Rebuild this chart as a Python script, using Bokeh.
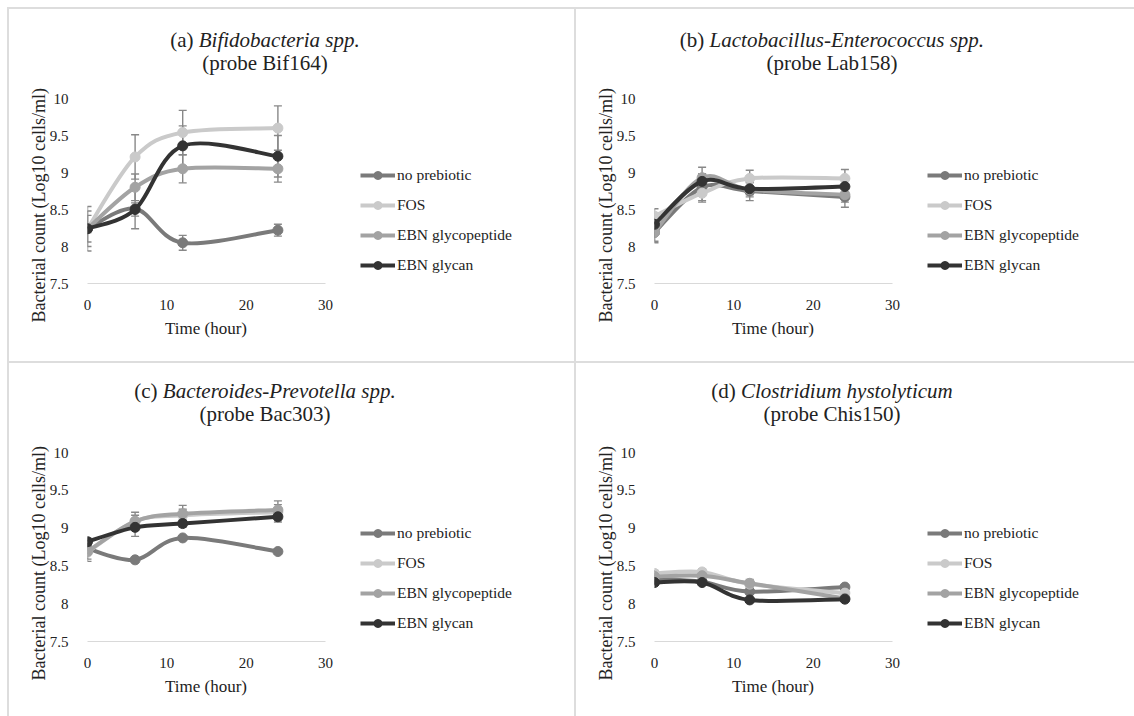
from bokeh.plotting import figure
from bokeh.models import (Range1d, FixedTicker, NumeralTickFormatter, Legend, LegendItem,
                          Whisker, TeeHead, ColumnDataSource, Div, Spacer, Title)
from bokeh.layouts import row, column
from bokeh.embed import file_html
from bokeh.resources import INLINE

# ---------------- data ----------------
TIME = [0, 6, 12, 24]
SERIES = ["no prebiotic", "FOS", "EBN glycopeptide", "EBN glycan"]

# (a) Bifidobacteria spp.
A_NO = [8.24, 8.51, 8.05, 8.22]
A_FOS = [8.24, 9.21, 9.54, 9.60]
A_GP = [8.24, 8.80, 9.05, 9.05]
A_GLY = [8.24, 8.50, 9.36, 9.22]
A_NO_ERR = [0.05, 0.27, 0.10, 0.08]
A_FOS_ERR = [0.30, 0.30, 0.30, 0.30]
A_GP_ERR = [0.24, 0.18, 0.19, 0.18]
A_GLY_ERR = [0.18, 0.09, 0.27, 0.28]

# (b) Lactobacillus-Enterococcus spp.
B_NO = [8.19, 8.80, 8.75, 8.67]
B_FOS = [8.41, 8.72, 8.92, 8.92]
B_GP = [8.19, 8.93, 8.77, 8.70]
B_GLY = [8.30, 8.88, 8.78, 8.81]
B_NO_ERR = [0.12, 0.18, 0.13, 0.14]
B_FOS_ERR = [0.10, 0.12, 0.11, 0.12]
B_GP_ERR = [0.14, 0.14, 0.10, 0.10]
B_GLY_ERR = [0.08, 0.10, 0.08, 0.08]

# (c) Bacteroides-Prevotella spp.
C_NO = [8.73, 8.58, 8.87, 8.69]
C_FOS = [8.68, 9.09, 9.17, 9.21]
C_GP = [8.69, 9.09, 9.19, 9.24]
C_GLY = [8.82, 9.01, 9.06, 9.15]
C_NO_ERR = [0.03, 0.03, 0.03, 0.03]
C_FOS_ERR = [0.12, 0.08, 0.08, 0.10]
C_GP_ERR = [0.10, 0.12, 0.11, 0.12]
C_GLY_ERR = [0.05, 0.12, 0.05, 0.07]

# (d) Clostridium hystolyticum
D_NO = [8.33, 8.29, 8.16, 8.22]
D_FOS = [8.40, 8.42, 8.26, 8.14]
D_GP = [8.36, 8.37, 8.27, 8.07]
D_GLY = [8.28, 8.28, 8.05, 8.06]
D_NO_ERR = [0.03, 0.03, 0.03, 0.03]
D_FOS_ERR = [0.04, 0.04, 0.04, 0.04]
D_GP_ERR = [0.04, 0.05, 0.05, 0.05]
D_GLY_ERR = [0.03, 0.03, 0.03, 0.03]

X_MIN, X_MAX = 0, 30
Y_MIN, Y_MAX = 7.5, 10
X_TICKS = [0, 10, 20, 30]
Y_TICKS = [7.5, 8, 8.5, 9, 9.5, 10]
X_LABEL = "Time (hour)"
Y_LABEL = "Bacterial count (Log10 cells/ml)"

PANELS = [
    dict(tag="(a)", name="Bifidobacteria spp.", probe="(probe Bif164)",
         vals=[A_NO, A_FOS, A_GP, A_GLY], errs=[A_NO_ERR, A_FOS_ERR, A_GP_ERR, A_GLY_ERR]),
    dict(tag="(b)", name="Lactobacillus-Enterococcus spp.", probe="(probe Lab158)",
         vals=[B_NO, B_FOS, B_GP, B_GLY], errs=[B_NO_ERR, B_FOS_ERR, B_GP_ERR, B_GLY_ERR]),
    dict(tag="(c)", name="Bacteroides-Prevotella spp.", probe="(probe Bac303)",
         vals=[C_NO, C_FOS, C_GP, C_GLY], errs=[C_NO_ERR, C_FOS_ERR, C_GP_ERR, C_GLY_ERR]),
    dict(tag="(d)", name="Clostridium hystolyticum", probe="(probe Chis150)",
         vals=[D_NO, D_FOS, D_GP, D_GLY], errs=[D_NO_ERR, D_FOS_ERR, D_GP_ERR, D_GLY_ERR]),
]

# ---------------- style / layout ----------------
COLORS = ["#7a7a7a", "#cacaca", "#a3a3a3", "#333333"]
ERR_COLOR = "#888888"
FONT = "Liberation Serif"
BORDER = "#dddddd"
TEXT_COLOR = "#222222"
TITLE_H = 68
TOP_B = 21
LEFT_B = 78          # px left of plot area
AXIS_PX = 238        # px width of the 0..30 axis
RIGHT_B = 10         # px right margin of the frame (legend lives inside the frame)


def smooth_controls(xs, ys):
    n = len(xs)
    out = dict(x0=[], y0=[], x1=[], y1=[], cx0=[], cy0=[], cx1=[], cy1=[])
    for i in range(n - 1):
        ip = i - 1 if i > 0 else i
        inn = i + 2 if i + 2 < n else i + 1
        out["x0"].append(xs[i]); out["y0"].append(ys[i])
        out["x1"].append(xs[i + 1]); out["y1"].append(ys[i + 1])
        out["cx0"].append(xs[i] + (xs[i + 1] - xs[ip]) / 6)
        out["cy0"].append(ys[i] + (ys[i + 1] - ys[ip]) / 6)
        out["cx1"].append(xs[i + 1] - (xs[inn] - xs[i]) / 6)
        out["cy1"].append(ys[i + 1] - (ys[inn] - ys[i]) / 6)
    return out


def make_title(panel, width, pad_top):
    html = (
        f'<div style="width:512px;text-align:center;font-family:\'{FONT}\';'
        f'font-size:21px;line-height:22.5px;color:{TEXT_COLOR};padding-top:{pad_top}px;'
        f'white-space:nowrap">{panel["tag"]} <i>{panel["name"]}</i><br>{panel["probe"]}</div>'
    )
    return Div(text=html, width=width, height=TITLE_H, margin=0)


def y_title():
    kw = dict(text=Y_LABEL, align="left", offset=-39, text_font=FONT,
              text_font_size="18px", text_font_style="normal", text_color=TEXT_COLOR)
    try:
        return Title(standoff=-5, **kw)
    except Exception:
        return Title(standoff=0, **kw)


def make_panel(panel, width, height, bottom_border):
    frame_w = width - LEFT_B - RIGHT_B
    # the 0..30 axis occupies AXIS_PX of the frame; the rest holds the legend
    x_end = X_MIN + (X_MAX - X_MIN) * frame_w / AXIS_PX
    p = figure(width=width, height=height, output_backend="svg", toolbar_location=None,
               x_range=Range1d(X_MIN, x_end), y_range=Range1d(Y_MIN, Y_MAX),
               min_border_left=LEFT_B, min_border_right=RIGHT_B,
               min_border_top=TOP_B, min_border_bottom=bottom_border)
    p.outline_line_color = None
    p.background_fill_color = "white"
    p.border_fill_color = "white"
    p.xgrid.grid_line_color = None
    p.ygrid.grid_line_color = None

    p.xaxis.ticker = FixedTicker(ticks=X_TICKS)
    p.xaxis.bounds = (X_MIN, X_MAX)
    p.yaxis.ticker = FixedTicker(ticks=Y_TICKS)
    p.yaxis.formatter = NumeralTickFormatter(format="0.[0]")
    for ax in (p.xaxis, p.yaxis):
        ax.major_tick_line_color = None
        ax.minor_tick_line_color = None
        ax.major_label_text_font = FONT
        ax.major_label_text_font_size = "15px"
        ax.major_label_text_color = TEXT_COLOR
    p.xaxis.axis_line_color = "#d9d9d9"
    p.xaxis.axis_line_width = 1.2
    p.yaxis.axis_line_color = None
    p.xaxis.major_label_standoff = 10
    p.yaxis.major_label_standoff = 13
    # x-axis title centred under the 0..30 axis
    p.add_layout(Title(text=X_LABEL, align="left", offset=(AXIS_PX - 83) / 2,
                       text_font=FONT, text_font_size="17px", text_font_style="normal",
                       text_color=TEXT_COLOR, standoff=8), "below")
    # y-axis title, starting a little below the plot area as in the original
    p.add_layout(y_title(), "left")

    items = []
    for name, vals, errs, color in zip(SERIES, panel["vals"], panel["errs"], COLORS):
        src = ColumnDataSource(dict(x=TIME, y=vals,
                                    upper=[v + e for v, e in zip(vals, errs)],
                                    lower=[v - e for v, e in zip(vals, errs)]))
        wk = Whisker(base="x", upper="upper", lower="lower", source=src, dimension="height",
                     line_color=ERR_COLOR, line_width=1.4,
                     upper_head=TeeHead(size=8, line_color=ERR_COLOR, line_width=1.4),
                     lower_head=TeeHead(size=8, line_color=ERR_COLOR, line_width=1.4))
        p.add_layout(wk)
        bsrc = ColumnDataSource(smooth_controls(TIME, vals))
        rl = p.bezier(x0="x0", y0="y0", x1="x1", y1="y1", cx0="cx0", cy0="cy0",
                      cx1="cx1", cy1="cy1", source=bsrc, line_color=color, line_width=4)
        rs = p.scatter(x="x", y="y", source=src, size=10, marker="circle",
                       fill_color=color, line_color=color)
        items.append(LegendItem(label=name, renderers=[rl, rs]))

    legend = Legend(items=items, location=(AXIS_PX + 35, 8), background_fill_alpha=0,
                    border_line_alpha=0, padding=0, margin=0, spacing=10,
                    glyph_width=35, glyph_height=20, label_height=20, label_standoff=2,
                    label_text_font=FONT, label_text_font_size="15.5px",
                    label_text_color=TEXT_COLOR)
    p.add_layout(legend)
    return p


fa = make_panel(PANELS[0], 565, 352 - TITLE_H, 78)
fb = make_panel(PANELS[1], 558, 352 - TITLE_H, 78)
fc = make_panel(PANELS[2], 565, 353 - TITLE_H, 75)
fd = make_panel(PANELS[3], 558, 353 - TITLE_H, 75)

ta = make_title(PANELS[0], 565, 20)
tb = make_title(PANELS[1], 558, 20)
tc = make_title(PANELS[2], 565, 17)
td = make_title(PANELS[3], 558, 17)


def hline():
    return row(Spacer(width=7, height=2),
               Div(width=1127, height=2, margin=0, styles={"background-color": BORDER}))


def vline(h):
    return Div(width=2, height=h, margin=0, styles={"background-color": BORDER})


layout = column(
    Spacer(width=1134, height=7),
    hline(),
    row(Spacer(width=7, height=352), vline(352), column(ta, fa), vline(352), column(tb, fb)),
    hline(),
    row(Spacer(width=7, height=353), vline(353), column(tc, fc), vline(353), column(td, fd)),
)

open("out.html", "w").write(file_html(layout, INLINE))
